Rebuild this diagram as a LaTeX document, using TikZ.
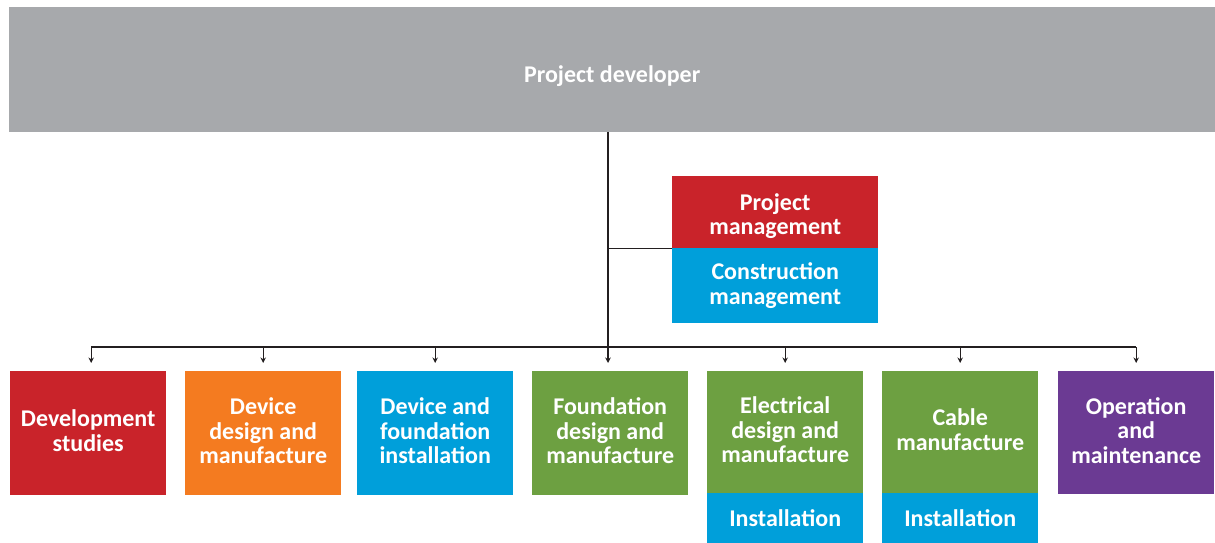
\documentclass[tikz,border=0pt]{standalone}
\usepackage{fontspec}
\setmainfont{Carlito}
\usetikzlibrary{arrows.meta}

\definecolor{devgrey}{HTML}{A7A9AC}
\definecolor{pmred}{HTML}{C9232A}
\definecolor{dmorange}{HTML}{F47B20}
\definecolor{instblue}{HTML}{009FDA}
\definecolor{fdgreen}{HTML}{6DA041}
\definecolor{ompurple}{HTML}{6B3A93}
\definecolor{wire}{HTML}{231F20}

% lower a line of text without changing its box
\newcommand{\sinkline}[2]{\raisebox{-#1}[\height][\depth]{#2}}

\begin{document}
\begin{tikzpicture}[
    x=1pt, y=-1pt,
    unit/.style={text=white, font=\bfseries\fontsize{24}{24.5}\selectfont,
        align=center, inner sep=0pt, anchor=north west},
    pkg/.style={unit, minimum width=156pt, minimum height=124pt, text depth=5pt},
    feed/.style={draw=wire, line width=1.2pt, -{Stealth[length=5.5pt,width=5.5pt]}, shorten >=8pt},
    wiring/.style={draw=wire, line width=1.2pt}
    ]
  \useasboundingbox (0,0) rectangle (1215,543);

  % client at the top
  \node [unit, fill=devgrey, minimum width=1206pt, minimum height=125pt] (dev) at (9,7)
    {\sinkline{6pt}{Project developer}};

  % management pair
  \node [unit, fill=pmred, minimum width=206pt, minimum height=72pt] (pm) at (672,176)
    {\sinkline{4pt}{Project}\\\sinkline{4pt}{management}};
  \node [unit, fill=instblue, minimum width=206pt, minimum height=75pt] (cm) at (672,248) {Construction\\management};

  % work packages
  \node [pkg, fill=pmred] (ds) at (10,371) {Development\\studies};
  \node [pkg, fill=dmorange] (ddm) at (185,371) {Device\\design and\\manufacture};
  \node [pkg, fill=instblue] (dfi) at (357,371) {Device and\\foundation\\installation};
  \node [pkg, fill=fdgreen] (fdm) at (532,371) {Foundation\\design and\\manufacture};
  \node [pkg, fill=fdgreen, minimum height=122pt] (edm) at (707,371) {Electrical\\design and\\manufacture};
  \node [unit, fill=instblue, minimum width=156pt, minimum height=50pt] (edi) at (707,493) {Installation};
  \node [pkg, fill=fdgreen, minimum height=122pt] (cab) at (882,371) {Cable\\manufacture};
  \node [unit, fill=instblue, minimum width=156pt, minimum height=50pt] (cai) at (882,493) {Installation};
  \node [pkg, fill=ompurple, minimum height=123pt] (om) at (1058,371) {Operation\\and\\maintenance};

  % connectors
  \coordinate (stem) at (608,347);
  \draw [wiring] (dev.south -| stem) -- (stem);
  \draw [wiring] (stem |- pm.south west) -- (pm.south west);
  \draw [wiring] ([xshift=3pt]ds.north |- stem) -- (om.north |- stem);
  \draw [feed] ([xshift=3pt]ds.north |- stem) -- ([xshift=3pt]ds.north);
  \draw [feed] (stem) -- (stem |- fdm.north);
  \foreach \wp in {ddm,dfi,edm,cab,om}
    \draw [feed] (\wp.north |- stem) -- (\wp.north);
\end{tikzpicture}
\end{document}
